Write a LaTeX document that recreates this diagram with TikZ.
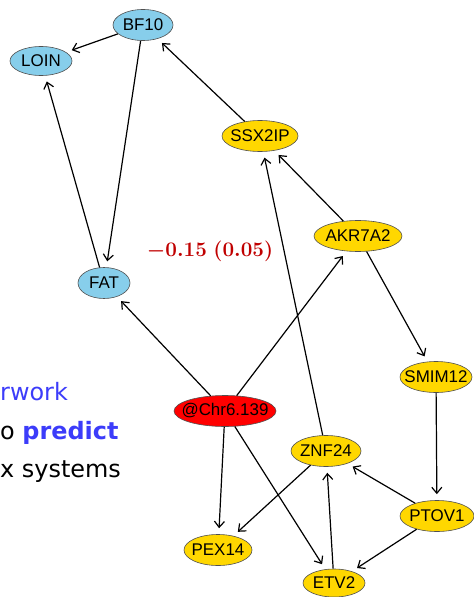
\documentclass[tikz,border=0pt]{standalone}
\usepackage{fontspec}
\usepackage{xcolor}
\usetikzlibrary{arrows.meta, shapes.geometric}
\newfontfamily\genefont{Liberation Sans}
\newfontfamily\slidefont{DejaVu Sans}
\definecolor{bnblue}{RGB}{135,206,235}
\definecolor{bngold}{RGB}{255,215,0}
\definecolor{bnred}{RGB}{255,0,0}
\definecolor{bnborder}{RGB}{80,80,80}
\definecolor{estred}{RGB}{192,0,0}
\definecolor{slideblue}{RGB}{60,60,250}

\begin{document}
\begin{tikzpicture}[
    x=1bp, y=-1bp,
    bnnode/.style={ellipse, draw=bnborder, line width=0.6bp, inner xsep=-12bp, inner ysep=0pt,
        minimum height=31bp, font=\genefont\fontsize{17}{17}\selectfont},
    trait/.style={bnnode, fill=bnblue},
    gene/.style={bnnode, fill=bngold},
    qtl/.style={bnnode, fill=bnred},
    link/.style={-{Straight Barb[length=6bp, width=10bp]}, line width=1.2bp, shorten >=6bp},
    slidetext/.style={inner sep=0pt, anchor=base west, font=\slidefont\fontsize{24}{24}\selectfont},
    estlabel/.style={text=estred, font=\boldmath\fontsize{22}{22}\selectfont}
]
\useasboundingbox (0,0) rectangle (474,597);
\clip (0,0) rectangle (474,597);

% slide text on the left
\node[slidetext, text=slideblue] (rwork)   at (0,400) {rwork};
\node[slidetext]                 (predict) at (0,439) {o \textbf{\textcolor{slideblue}{predict}}};
\node[slidetext]                 (systems) at (0,477) {x systems};

% network
\node[trait, minimum width=60bp]                      (bf10)   at (143,25)  {BF10};
\node[trait, minimum width=62bp, minimum height=29bp] (loin)   at (41,61)   {LOIN};
\node[gene,  minimum width=76bp]                      (ssx2ip) at (260,136) {SSX2IP};
\node[gene,  minimum width=88bp]                      (akr7a2) at (358,236) {AKR7A2};
\node[trait, minimum width=52bp]                      (fat)    at (104,283) {FAT};
\node[gene,  minimum width=72bp]                      (smim12) at (436,377) {SMIM12};
\node[qtl,   minimum width=102bp]                     (chr)    at (225,411) {@Chr6.139};
\node[gene,  minimum width=70bp]                      (znf24)  at (326,451) {ZNF24};
\node[gene,  minimum width=74bp]                      (ptov1)  at (437,516) {PTOV1};
\node[gene,  minimum width=68bp]                      (pex14)  at (218,550) {PEX14};
\node[gene,  minimum width=62bp, minimum height=28bp] (etv2)   at (334,583) {ETV2};

\node[estlabel] (effect) at (210,251) {$-0.15~(0.05)$};

\draw[link] (bf10)   -- (loin);
\draw[link] (bf10)   -- (fat);
\draw[link] (fat)    -- (loin);
\draw[link] (ssx2ip) -- (bf10);
\draw[link] (akr7a2) -- (ssx2ip);
\draw[link] (znf24)  -- (ssx2ip);
\draw[link] (chr)    -- (akr7a2);
\draw[link] (chr)    -- (fat);
\draw[link] (chr)    -- (pex14);
\draw[link] (chr)    -- (etv2);
\draw[link] (akr7a2) -- (smim12);
\draw[link] (smim12) -- (ptov1);
\draw[link] (ptov1)  -- (znf24);
\draw[link] (ptov1)  -- (etv2);
\draw[link] (etv2)   -- (znf24);
\draw[link] (znf24)  -- (pex14);
\end{tikzpicture}
\end{document}
